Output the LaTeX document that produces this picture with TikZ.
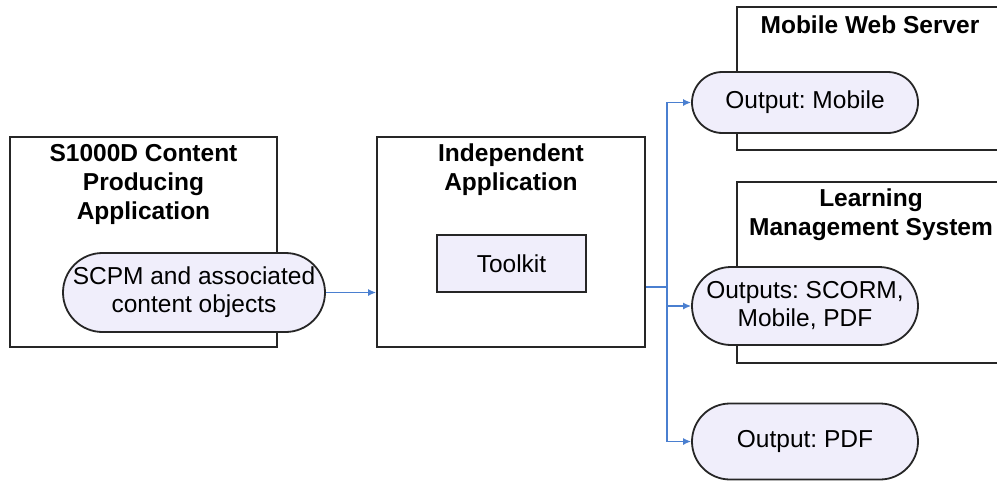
\documentclass[tikz,border=0pt]{standalone}
\usepackage{fontspec}
\setmainfont{Liberation Sans}
\usetikzlibrary{shapes.misc,arrows.meta}
\frenchspacing
\definecolor{pillfill}{HTML}{F0EEFB}
\definecolor{linkblue}{HTML}{4A7FD0}
\definecolor{edgegray}{HTML}{262626}
\tikzset{
  frame/.style={draw=edgegray, line width=1.8pt, fill=white, inner sep=0pt},
  pill/.style={rounded rectangle, draw=edgegray, line width=1.8pt, fill=pillfill,
    inner sep=0pt, align=center, font=\fontsize{24.5}{28}\selectfont},
  toolbox/.style={draw=edgegray, line width=1.8pt, fill=pillfill, inner sep=0pt,
    font=\fontsize{24.5}{28}\selectfont},
  title/.style={align=center, inner sep=0pt, font=\fontsize{24.5}{29}\selectfont\bfseries},
  link/.style={draw=linkblue, line width=1.3pt, -{Latex[length=8pt,width=7pt]}},
  bus/.style={draw=linkblue, line width=1.3pt}
}
\begin{document}
\begin{tikzpicture}[x=1pt,y=-1pt]
  \useasboundingbox[fill=white] (0,0) rectangle (997,482);
  \clip (0,0) rectangle (997,482);

  % containers
  \node[frame, minimum width=267pt, minimum height=210pt] (prod) at (143.5,242) {};
  \node[frame, minimum width=268pt, minimum height=210pt] (indep) at (511,242) {};
  \node[frame, minimum width=268pt, minimum height=143pt] (mws) at (871,78.5) {};
  \node[frame, minimum width=268pt, minimum height=181pt] (lms) at (871,272.5) {};

  % container titles
  \node[title] (prodtitle) at (143.5,184.5) {S1000D Content\\Producing\\Application};
  \node[title] (indeptitle) at (511,170) {Independent\\Application};
  \node[title] (mwstitle) at (870,25) {Mobile Web Server};
  \node[title] (lmstitle) at (871,215) {Learning\\Management System};

  % inner elements
  \node[toolbox, minimum width=149pt, minimum height=57pt] (toolkit) at (511.5,263.5) {Toolkit};
  \node[pill, minimum width=262pt, minimum height=79pt] (scpm) at (194,292.5)
    {SCPM and associated\\content objects};
  \node[pill, minimum width=226pt, minimum height=61pt] (mobile) at (805,102.5) {Output: Mobile};
  \node[pill, minimum width=226pt, minimum height=78pt] (scorm) at (805,306)
    {Outputs: SCORM,\\Mobile, PDF};
  \node[pill, minimum width=226pt, minimum height=76pt] (pdf) at (805,441.5) {Output: PDF};

  % connectors
  \draw[link] (scpm.east) -- (scpm.east -| indep.west);
  \coordinate (busjoin) at (667,287);
  \draw[bus] (indep.east |- busjoin) -- (busjoin);
  \draw[link] (busjoin) |- (mobile.west);
  \draw[link] (busjoin) |- (scorm.west);
  \draw[link] (busjoin) |- (pdf.west);
\end{tikzpicture}
\end{document}
